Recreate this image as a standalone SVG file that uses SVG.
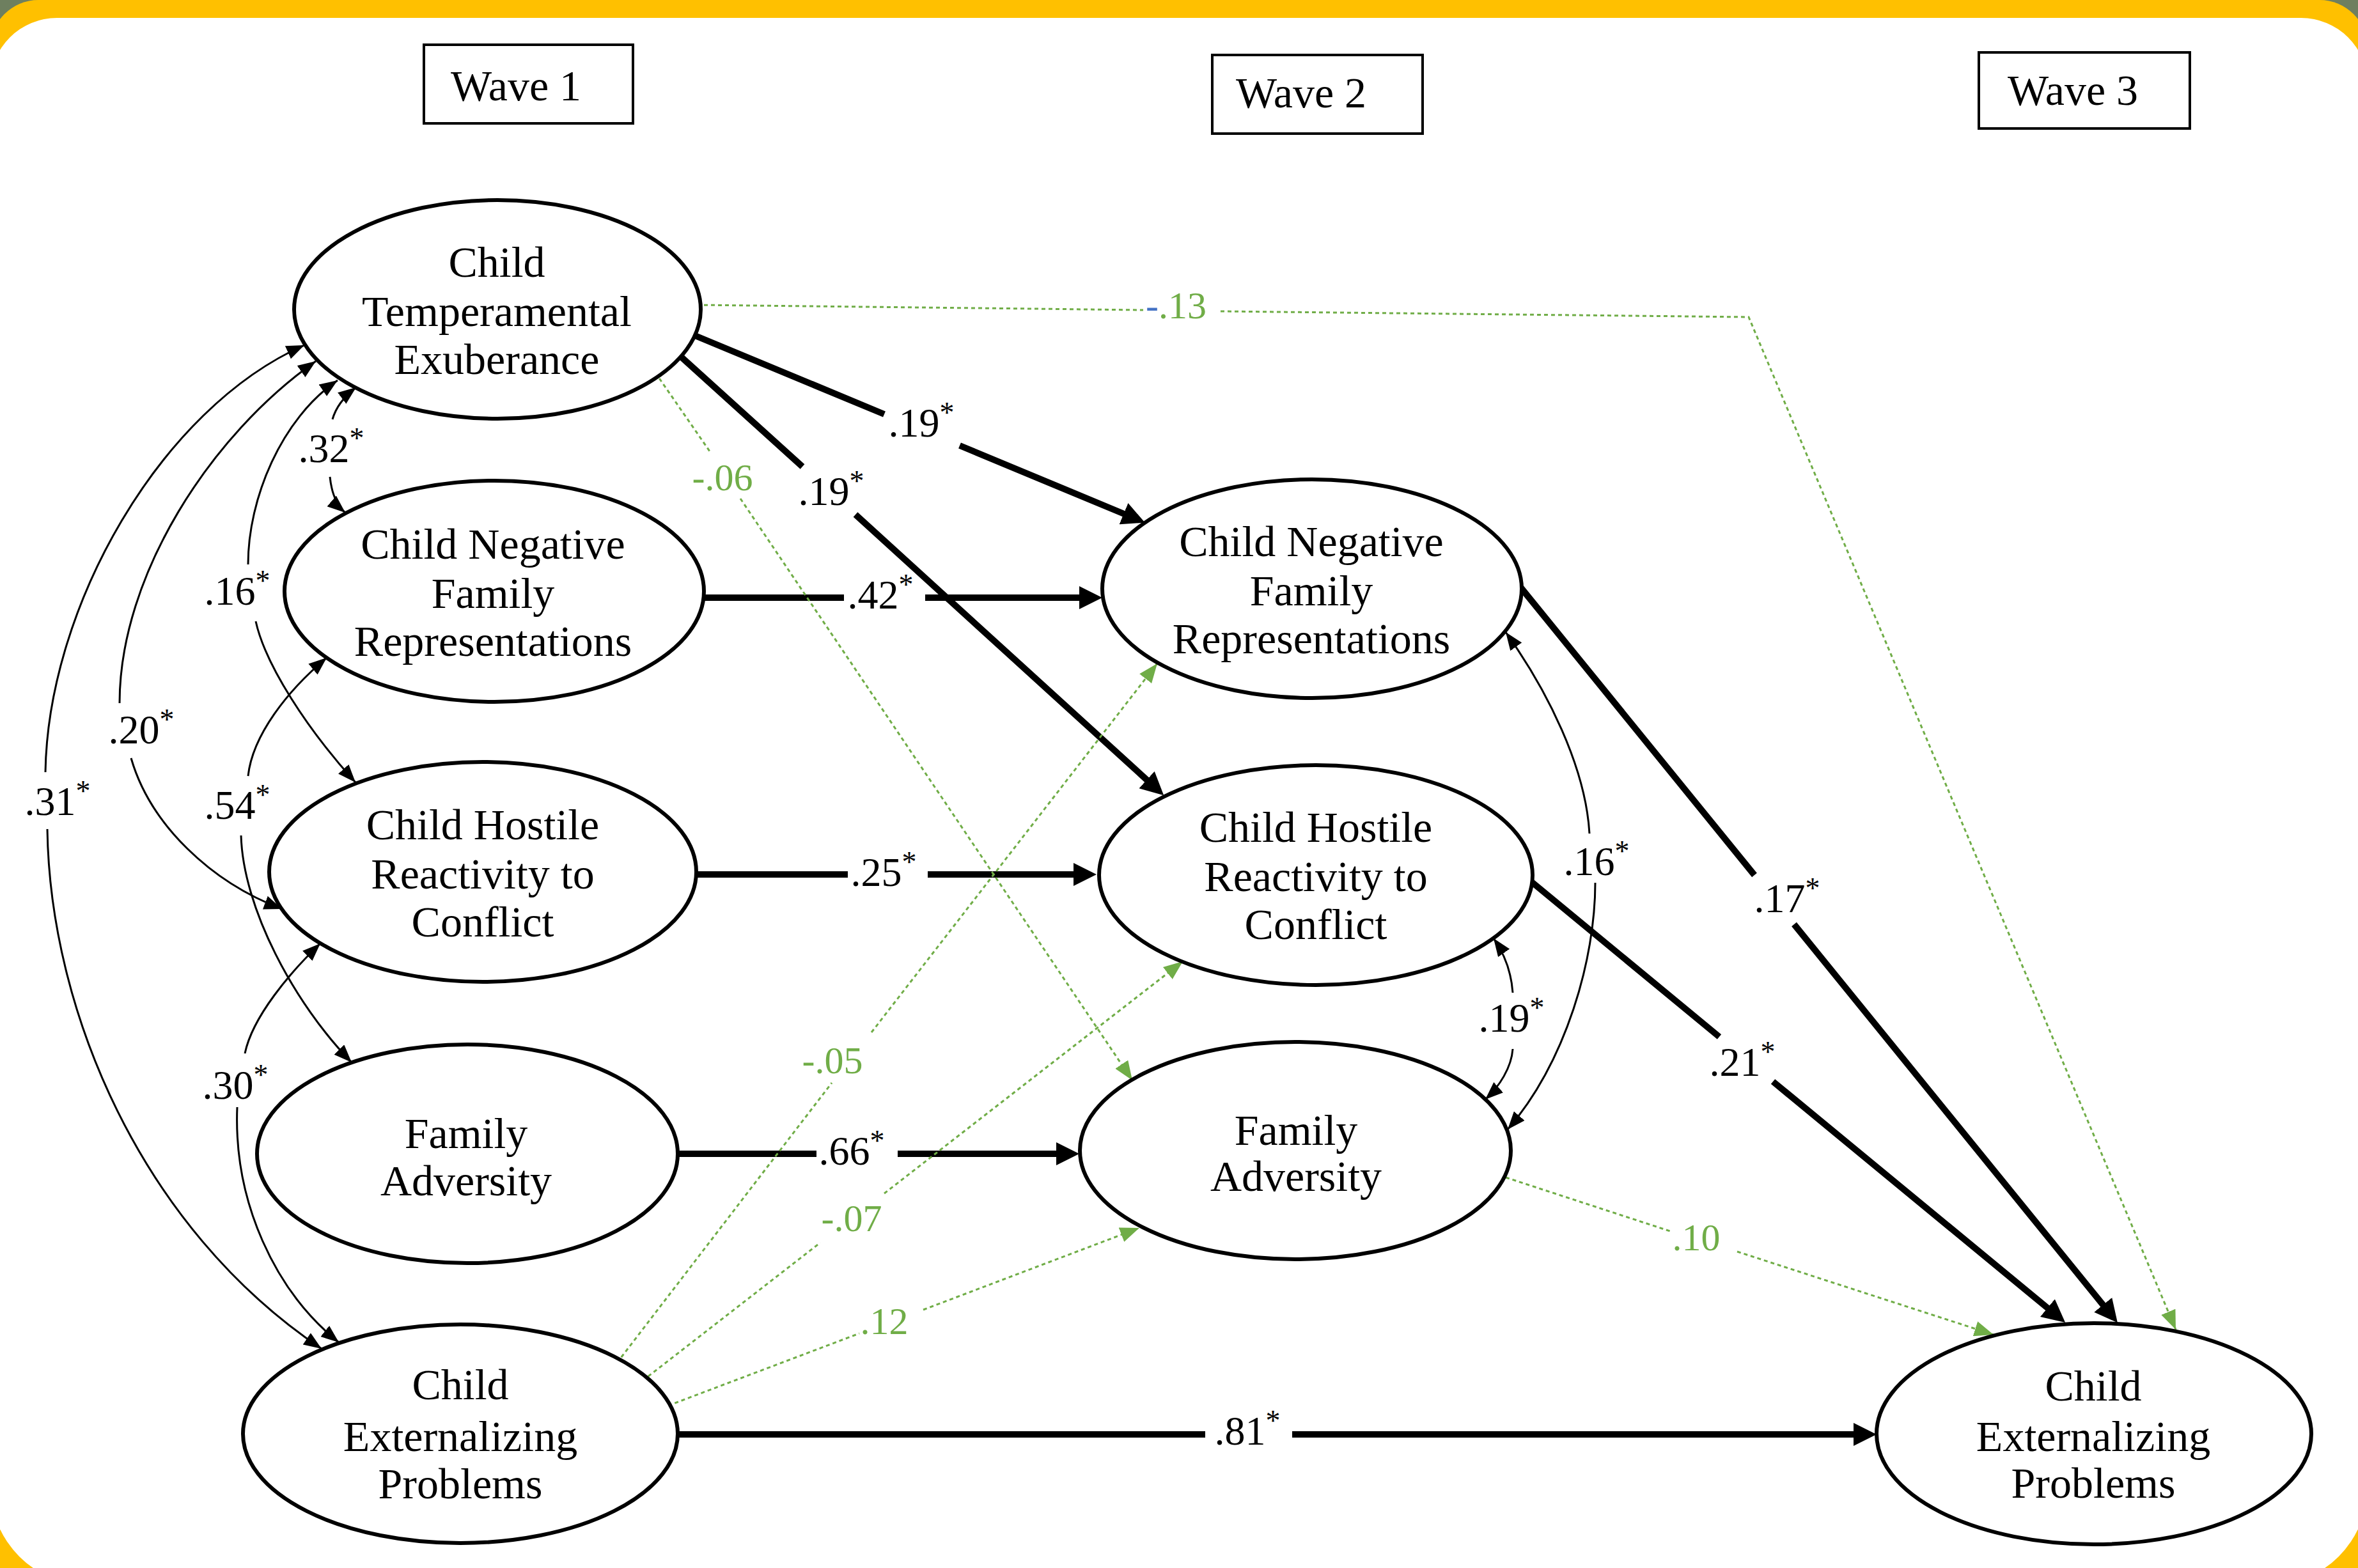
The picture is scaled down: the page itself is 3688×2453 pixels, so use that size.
<svg xmlns="http://www.w3.org/2000/svg" width="3688" height="2453" viewBox="0 0 3688 2453">
<style>
.ell{fill:#fff;stroke:#000;stroke-width:6}
.nt{font-family:"Liberation Serif","Times New Roman",serif;font-size:68px;text-anchor:middle;fill:#000}
.wv{fill:#fff;stroke:#000;stroke-width:4}
.wt{font-family:"Liberation Serif","Times New Roman",serif;font-size:68px;fill:#000}
.thick{fill:none;stroke:#000;stroke-width:10;marker-end:url(#ah)}
.thin{fill:none;stroke:#000;stroke-width:3;marker-start:url(#as);marker-end:url(#as)}
.grn{fill:none;stroke:#70AD47;stroke-width:3;stroke-dasharray:6 5;marker-end:url(#ag)}
.lb{font-family:"Liberation Serif","Times New Roman",serif;font-size:64px;text-anchor:middle;fill:#000}
.gl{font-family:"Liberation Serif","Times New Roman",serif;font-size:60px;text-anchor:middle;fill:#70AD47}
.st{font-size:46px}
</style>
<defs>
<marker id="ah" markerUnits="userSpaceOnUse" markerWidth="36" markerHeight="36" viewBox="0 0 36 36" refX="6" refY="18" orient="auto"><path d="M0,0 L36,18 L0,36 z" fill="#000"/></marker>
<marker id="as" markerUnits="userSpaceOnUse" markerWidth="28" markerHeight="22" viewBox="0 0 28 22" refX="28" refY="11" orient="auto-start-reverse"><path d="M0,0 L28,11 L0,22 z" fill="#000"/></marker>
<marker id="ag" markerUnits="userSpaceOnUse" markerWidth="30" markerHeight="24" viewBox="0 0 30 24" refX="30" refY="12" orient="auto"><path d="M0,0 L30,12 L0,24 z" fill="#70AD47"/></marker>
</defs>
<rect x="0" y="0" width="3688" height="2453" fill="#6E7F5F"/>
<rect x="-15" y="0" width="3718" height="2600" rx="75" fill="#FFC000"/>
<path d="M89,28 H3599 A104,104 0 0 1 3703,132 V2326 A154,154 0 0 1 3549,2480 H139 A154,154 0 0 1 -15,2326 V132 A104,104 0 0 1 89,28 Z" fill="#fff"/>

<g id="wave1"><rect class="wv" x="663" y="70" width="327" height="123"/><text class="wt" x="705" y="157">Wave 1</text></g>
<g id="wave2"><rect class="wv" x="1896" y="86" width="329" height="123"/><text class="wt" x="1933" y="168">Wave 2</text></g>
<g id="wave3"><rect class="wv" x="3095" y="82" width="330" height="119"/><text class="wt" x="3140" y="164">Wave 3</text></g>

<g id="connectors">
<path class="thick" d="M1075,520 L1383,648 M1501,697 L1763,806"/>
<path class="thick" d="M1055,549 L1255,730 M1338,805 L1798,1224"/>
<path class="thick" d="M1090,935 L1320,935 M1447,935 L1694,935"/>
<path class="thick" d="M1080,1368 L1326,1368 M1451,1368 L1685,1368"/>
<path class="thick" d="M1050,1805 L1277,1805 M1404,1805 L1658,1805"/>
<path class="thick" d="M1050,2244 L1885,2244 M2021,2244 L2905,2244"/>
<path class="thick" d="M2372,911 L2744,1369 M2806,1446 L3293,2046"/>
<path class="thick" d="M2385,1371 L2689,1622 M2773,1692 L3207,2050"/>

<path class="grn" d="M1090,477 L1788,485 M1909,487 L2735,496 L3403,2080"/>
<path class="grn" d="M1025,583 L1110,706 M1158,780 L1771,1690"/>
<path class="grn" d="M965,2132 L1301,1694 M1363,1615 L1810,1038"/>
<path class="grn" d="M1005,2160 L1283,1944 M1383,1867 L1850,1504"/>
<path class="grn" d="M1045,2199 L1344,2086 M1444,2049 L1782,1921"/>
<path class="grn" d="M2355,1842 L2612,1926 M2717,1958 L3118,2088"/>

<path class="thin" d="M557,606 Q528,628 520,656 M516,746 Q520,785 540,802"/>
<path class="thin" d="M528,595 C440,655 388,780 388,883 M400,972 C415,1040 480,1140 556,1224"/>
<path class="thin" d="M494,565 C330,680 187,900 187,1100 M205,1186 C235,1290 330,1380 441,1422"/>
<path class="thin" d="M476,540 C250,640 75,950 71,1208 M74,1297 C78,1580 220,1920 503,2110"/>
<path class="thin" d="M511,1029 C450,1080 395,1150 388,1214 M377,1307 C380,1420 460,1570 550,1662"/>
<path class="thin" d="M501,1476 C455,1520 395,1590 383,1648 M371,1732 C365,1880 430,2020 530,2100"/>
<path class="thin" d="M2355,989 C2420,1080 2480,1200 2486,1304 M2495,1381 C2495,1500 2450,1660 2358,1767"/>
<path class="thin" d="M2336,1468 C2355,1495 2364,1525 2366,1553 M2366,1641 C2364,1670 2345,1700 2323,1720"/>
</g>

<g id="n_cte"><ellipse class="ell" cx="778" cy="484" rx="318" ry="171"/>
<text class="nt" x="777" y="433">Child</text><text class="nt" x="777" y="510">Temperamental</text><text class="nt" x="777" y="585">Exuberance</text></g>
<g id="n_cnfr1"><ellipse class="ell" cx="773" cy="925" rx="328" ry="173"/>
<text class="nt" x="771" y="874">Child Negative</text><text class="nt" x="771" y="951">Family</text><text class="nt" x="771" y="1026">Representations</text></g>
<g id="n_chrc1"><ellipse class="ell" cx="755" cy="1364" rx="334" ry="172"/>
<text class="nt" x="755" y="1313">Child Hostile</text><text class="nt" x="755" y="1390">Reactivity to</text><text class="nt" x="755" y="1465">Conflict</text></g>
<g id="n_fa1"><ellipse class="ell" cx="731" cy="1805" rx="329" ry="171"/>
<text class="nt" x="729" y="1796">Family</text><text class="nt" x="729" y="1870">Adversity</text></g>
<g id="n_cep1"><ellipse class="ell" cx="720" cy="2243" rx="340" ry="171"/>
<text class="nt" x="720" y="2189">Child</text><text class="nt" x="720" y="2270">Externalizing</text><text class="nt" x="720" y="2344">Problems</text></g>
<g id="n_cnfr2"><ellipse class="ell" cx="2052" cy="921" rx="328" ry="171"/>
<text class="nt" x="2051" y="870">Child Negative</text><text class="nt" x="2051" y="947">Family</text><text class="nt" x="2051" y="1022">Representations</text></g>
<g id="n_chrc2"><ellipse class="ell" cx="2058" cy="1369" rx="339" ry="172"/>
<text class="nt" x="2058" y="1317">Child Hostile</text><text class="nt" x="2058" y="1394">Reactivity to</text><text class="nt" x="2058" y="1469">Conflict</text></g>
<g id="n_fa2"><ellipse class="ell" cx="2026" cy="1800" rx="337" ry="170"/>
<text class="nt" x="2027" y="1791">Family</text><text class="nt" x="2027" y="1863">Adversity</text></g>
<g id="n_cep3"><ellipse class="ell" cx="3275" cy="2243" rx="340" ry="173"/>
<text class="nt" x="3274" y="2191">Child</text><text class="nt" x="3274" y="2270">Externalizing</text><text class="nt" x="3274" y="2343">Problems</text></g>

<g id="labels">
<text class="lb" x="1441" y="683">.19<tspan class="st" dy="-22">*</tspan></text>
<text class="lb" x="1300" y="790">.19<tspan class="st" dy="-22">*</tspan></text>
<text class="lb" x="1377" y="952">.42<tspan class="st" dy="-22">*</tspan></text>
<text class="lb" x="1382" y="1386">.25<tspan class="st" dy="-22">*</tspan></text>
<text class="lb" x="1332" y="1822">.66<tspan class="st" dy="-22">*</tspan></text>
<text class="lb" x="1951" y="2260">.81<tspan class="st" dy="-22">*</tspan></text>
<text class="lb" x="2795" y="1427">.17<tspan class="st" dy="-22">*</tspan></text>
<text class="lb" x="2725" y="1683">.21<tspan class="st" dy="-22">*</tspan></text>
<text class="lb" x="518" y="723">.32<tspan class="st" dy="-22">*</tspan></text>
<text class="lb" x="371" y="946">.16<tspan class="st" dy="-22">*</tspan></text>
<text class="lb" x="221" y="1163">.20<tspan class="st" dy="-22">*</tspan></text>
<text class="lb" x="90" y="1275">.31<tspan class="st" dy="-22">*</tspan></text>
<text class="lb" x="371" y="1281">.54<tspan class="st" dy="-22">*</tspan></text>
<text class="lb" x="368" y="1719">.30<tspan class="st" dy="-22">*</tspan></text>
<text class="lb" x="2497" y="1369">.16<tspan class="st" dy="-22">*</tspan></text>
<text class="lb" x="2364" y="1614">.19<tspan class="st" dy="-22">*</tspan></text>
<text class="gl" x="1792" y="498" style="text-anchor:start"><tspan fill="#4472C4">-</tspan>.13</text>
<text class="gl" x="1130" y="767">-.06</text>
<text class="gl" x="1302" y="1679">-.05</text>
<text class="gl" x="1332" y="1926">-.07</text>
<text class="gl" x="1383" y="2087">.12</text>
<text class="gl" x="2653" y="1956">.10</text>
</g>
</svg>
